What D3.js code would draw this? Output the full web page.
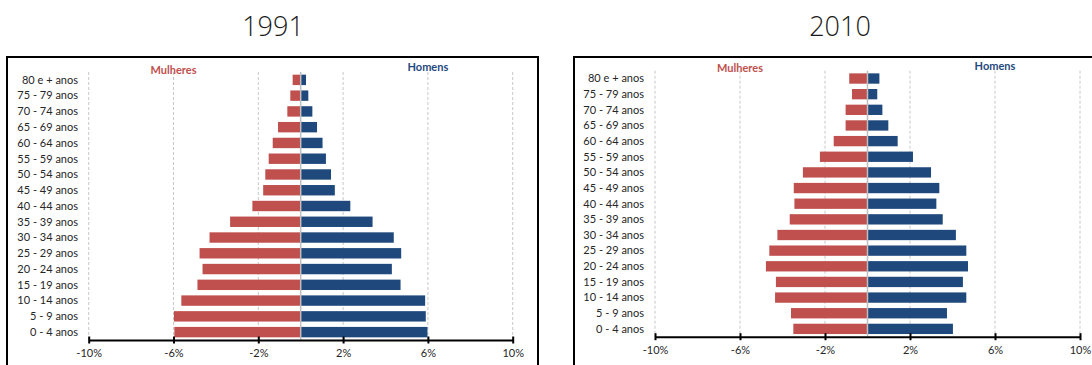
<!DOCTYPE html>
<html>
<head>
<meta charset="utf-8">
<script src="https://cdn.jsdelivr.net/npm/d3@7"></script>
<style>
  html, body { margin: 0; padding: 0; background: #fff; }
  svg { display: block; }
</style>
</head>
<body>
<svg id="chart" width="1092" height="365"></svg>
<script>
// Age groups, top to bottom
const ageGroups = ["80 e + anos", "75 - 79 anos", "70 - 74 anos", "65 - 69 anos", "60 - 64 anos",
  "55 - 59 anos", "50 - 54 anos", "45 - 49 anos", "40 - 44 anos", "35 - 39 anos", "30 - 34 anos",
  "25 - 29 anos", "20 - 24 anos", "15 - 19 anos", "10 - 14 anos", "5 - 9 anos", "0 - 4 anos"];

// Share of total population (%), same order as ageGroups
const women1991 = [0.38, 0.49, 0.63, 1.07, 1.32, 1.51, 1.67, 1.77, 2.28, 3.33, 4.30, 4.77, 4.63, 4.87, 5.63, 5.98, 5.96];
const men1991   = [0.25, 0.36, 0.55, 0.77, 1.03, 1.19, 1.43, 1.61, 2.34, 3.39, 4.39, 4.74, 4.30, 4.71, 5.87, 5.90, 5.98];
const women2010 = [0.86, 0.73, 1.03, 1.03, 1.59, 2.24, 3.04, 3.47, 3.44, 3.66, 4.24, 4.62, 4.78, 4.31, 4.35, 3.60, 3.49];
const men2010   = [0.56, 0.46, 0.70, 0.98, 1.42, 2.14, 2.99, 3.38, 3.24, 3.54, 4.16, 4.65, 4.73, 4.49, 4.65, 3.74, 4.02];

const tickValues = [-10, -6, -2, 2, 6, 10];
const seriesNames = ["Mulheres", "Homens"];

const colors = { women: "#c0504d", men: "#1f497d" };

const panels = [
  { title: "1991", women: women1991, men: men1991,
    frame: [7, 57, 531, 320], titleX: 273,
    xRange: [88.7, 512.7], yRange: [72, 340], labelX: 78, legendY: [70, 67] },
  { title: "2010", women: women2010, men: men2010,
    frame: [574, 57, 540, 320], titleX: 840,
    xRange: [655, 1080], yRange: [70.7, 336.7], labelX: 644, legendY: [68.5, 66] }
];

const svg = d3.select("#chart");

panels.forEach(p => {
  const g = svg.append("g");

  // Title
  g.append("text")
    .attr("x", p.titleX).attr("y", 36)
    .attr("text-anchor", "middle")
    .style("font-family", "'Open Sans', sans-serif")
    .style("font-weight", 300)
    .style("font-size", "27px")
    .attr("fill", "#1a1a1a")
    .text(p.title);

  // Frame
  g.append("rect")
    .attr("x", p.frame[0]).attr("y", p.frame[1])
    .attr("width", p.frame[2]).attr("height", p.frame[3])
    .attr("fill", "none").attr("stroke", "#000").attr("stroke-width", 2);

  const x = d3.scaleLinear().domain([-10, 10]).range(p.xRange);
  const y = d3.scaleBand().domain(ageGroups).range(p.yRange).paddingInner(0.34).paddingOuter(0.17);

  // Dashed vertical gridlines
  g.append("g").selectAll("line").data(tickValues).join("line")
    .attr("x1", d => x(d)).attr("x2", d => x(d))
    .attr("y1", p.yRange[0]).attr("y2", p.yRange[1])
    .attr("stroke", "#c8c8c8").attr("stroke-width", 1)
    .attr("stroke-dasharray", "3,2");

  // Women bars (left of zero)
  g.append("g").selectAll("rect").data(ageGroups).join("rect")
    .attr("x", (d, i) => x(-p.women[i]))
    .attr("y", d => y(d))
    .attr("width", (d, i) => x(0) - x(-p.women[i]))
    .attr("height", y.bandwidth())
    .attr("fill", colors.women);

  // Men bars (right of zero)
  g.append("g").selectAll("rect").data(ageGroups).join("rect")
    .attr("x", x(0))
    .attr("y", d => y(d))
    .attr("width", (d, i) => x(p.men[i]) - x(0))
    .attr("height", y.bandwidth())
    .attr("fill", colors.men);

  // Zero line
  g.append("line")
    .attr("x1", x(0)).attr("x2", x(0))
    .attr("y1", p.yRange[0]).attr("y2", p.yRange[1])
    .attr("stroke", "#bfbfbf").attr("stroke-width", 1.5);

  // Age group labels
  g.append("g").selectAll("text").data(ageGroups).join("text")
    .attr("x", p.labelX)
    .attr("y", d => y(d) + y.bandwidth() / 2)
    .attr("dy", "0.35em")
    .attr("text-anchor", "end")
    .style("font-family", "Lato, sans-serif")
    .style("font-size", "11px")
    .attr("fill", "#262626")
    .text(d => d);

  // Series labels, centred on the ±6% gridlines
  [[seriesNames[0], -6, colors.women, p.legendY[0]], [seriesNames[1], 6, colors.men, p.legendY[1]]]
    .forEach(([name, v, c, ly]) => {
      const tx = g.append("text")
        .attr("x", x(v)).attr("y", ly)
        .attr("dy", "0.35em")
        .attr("text-anchor", "middle")
        .style("font-family", "Lato, sans-serif")
        .style("font-weight", 700)
        .style("font-size", "11px")
        .attr("fill", c)
        .text(name);
      const bb = tx.node().getBBox();
      g.insert("rect", "text")
        .attr("x", bb.x - 2).attr("y", bb.y)
        .attr("width", bb.width + 4).attr("height", bb.height + 2)
        .attr("fill", "#fff");
    });

  // Bottom axis
  const axis = d3.axisBottom(x)
    .tickValues(tickValues)
    .tickFormat(d => d + "%")
    .tickSizeInner(3.5)
    .tickSizeOuter(0)
    .tickPadding(6);

  const ag = g.append("g")
    .attr("transform", `translate(0,${p.yRange[1]})`)
    .call(axis);
  ag.select(".domain").attr("stroke", "#000").attr("stroke-width", 2);
  ag.selectAll(".tick line").attr("y1", -3.5).attr("y2", 3.5)
    .attr("stroke", "#000").attr("stroke-width", 2);
  ag.selectAll(".tick text")
    .style("font-family", "Lato, sans-serif")
    .style("font-size", "11px")
    .attr("fill", "#262626");
});
</script>
</body>
</html>
